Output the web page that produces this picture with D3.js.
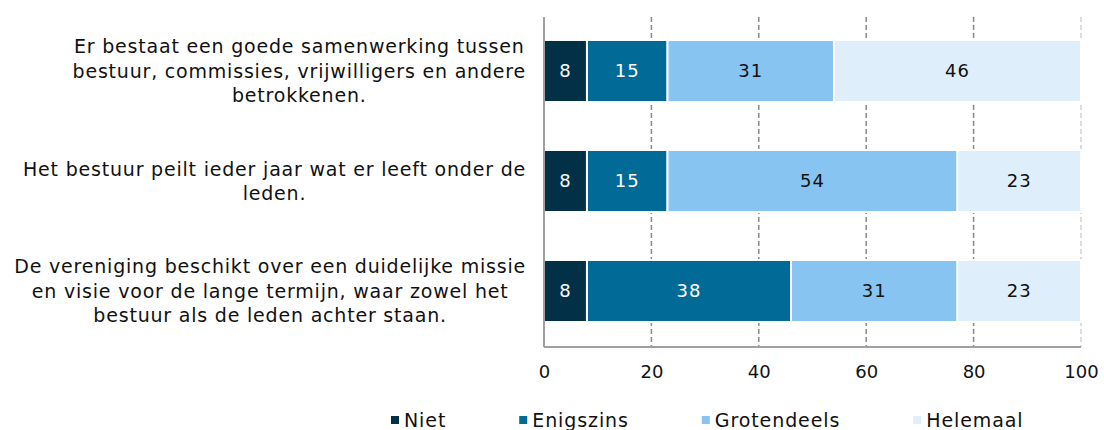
<!DOCTYPE html>
<html><head><meta charset="utf-8">
<script src="https://cdn.jsdelivr.net/npm/d3@7"></script>
<style>body{margin:0;background:#fff}svg{display:block}text{font-family:"DejaVu Sans",sans-serif}</style>
</head><body>
<svg id="c" width="1104" height="430"></svg>
<script>
const categories = [
  ["Er bestaat een goede samenwerking tussen","bestuur, commissies, vrijwilligers en andere","betrokkenen."],
  ["Het bestuur peilt ieder jaar wat er leeft onder de","leden."],
  ["De vereniging beschikt over een duidelijke missie","en visie voor de lange termijn, waar zowel het","bestuur als de leden achter staan."]
];
const seriesNames = ["Niet","Enigszins","Grotendeels","Helemaal"];
const niet = [8, 8, 8];
const enigszins = [15, 15, 38];
const grotendeels = [31, 54, 31];
const helemaal = [46, 23, 23];
const xTicks = [0, 20, 40, 60, 80, 100];
const colors = ["#023047", "#026a97", "#87c4f1", "#deeefb"];
const textColors = ["#ffffff", "#ffffff", "#111111", "#111111"];

const svg = d3.select("#c");
const m = {l:544, r:1081, t:17, b:347};
const x = d3.scaleLinear().domain([0,100]).range([m.l, m.r]);
const y = d3.scaleBand().domain(d3.range(categories.length)).range([m.t - 1, m.b - 1]).paddingInner(0.436).paddingOuter(0.218);

// grid
svg.append("g").selectAll("line").data(xTicks.filter(d=>d>0)).join("line")
  .attr("x1", d=>x(d)).attr("x2", d=>x(d)).attr("y1", m.t).attr("y2", m.b)
  .attr("stroke", d=> d===100 ? "#d0d0d0" : "#8a8a8a").attr("stroke-width",1.5).attr("stroke-dasharray","5,3");

const rows = categories.map((c,i)=>({i, vals:[niet[i], enigszins[i], grotendeels[i], helemaal[i]]}));
const segs = [];
rows.forEach(r=>{ let acc=0; r.vals.forEach((v,k)=>{ segs.push({i:r.i,k,v,x0:acc,x1:acc+v}); acc+=v; }); });

svg.append("g").selectAll("rect").data(segs).join("rect")
  .attr("x", d=>x(d.x0)).attr("width", d=>x(d.x1)-x(d.x0))
  .attr("y", d=>y(d.i)).attr("height", y.bandwidth())
  .attr("fill", d=>colors[d.k]).attr("stroke","#fff").attr("stroke-width",2);

svg.append("g").selectAll("text").data(segs).join("text")
  .attr("x", d=>(x(d.x0)+x(d.x1))/2).attr("y", d=>y(d.i)+y.bandwidth()/2)
  .attr("dy","0.36em").attr("text-anchor","middle").attr("font-size",18).attr("letter-spacing",1)
  .attr("fill", d=>textColors[d.k]).text(d=>d.v);

// axes lines
svg.append("line").attr("x1",m.l).attr("x2",m.l).attr("y1",m.t).attr("y2",m.b).attr("stroke","#a0a0a0").attr("stroke-width",2);
svg.append("line").attr("x1",m.l).attr("x2",m.r).attr("y1",m.b).attr("y2",m.b).attr("stroke","#a0a0a0").attr("stroke-width",2);

// tick labels
const ax = svg.append("g").attr("transform",`translate(0,${m.b})`)
  .call(d3.axisBottom(x).tickValues(xTicks).tickSize(0).tickPadding(18));
ax.select(".domain").remove();
ax.selectAll("text").attr("font-size",18).attr("fill","#111").style("font-family","DejaVu Sans, sans-serif");

// category labels: each block centered internally, right edge at labelRight
const lh = 24.5, labelRight = 526;
categories.forEach((lines,i)=>{
  const cy = y(i)+y.bandwidth()/2;
  const t = svg.append("text").attr("text-anchor","middle").attr("font-size",19).attr("letter-spacing",0.8).attr("fill","#111");
  const spans = lines.map((ln,j)=> t.append("tspan").attr("y", cy + (j-(lines.length-1)/2)*lh).attr("dy","0.36em").text(ln));
  const maxW = d3.max(spans, s=>s.node().getComputedTextLength());
  spans.forEach(s=>s.attr("x", labelRight - maxW/2));
});

// legend (flow layout)
const lg = svg.append("g");
let lx = 391;
seriesNames.forEach((name,i)=>{
  lg.append("rect").attr("x",lx).attr("y",416).attr("width",8).attr("height",8).attr("fill",colors[i]);
  const tx = lg.append("text").attr("x",lx+13).attr("y",420).attr("dy","0.36em").attr("font-size",19).attr("letter-spacing",0.9).attr("fill","#111").text(name);
  lx += 13 + tx.node().getComputedTextLength() + 73;
});
</script>
</body></html>
